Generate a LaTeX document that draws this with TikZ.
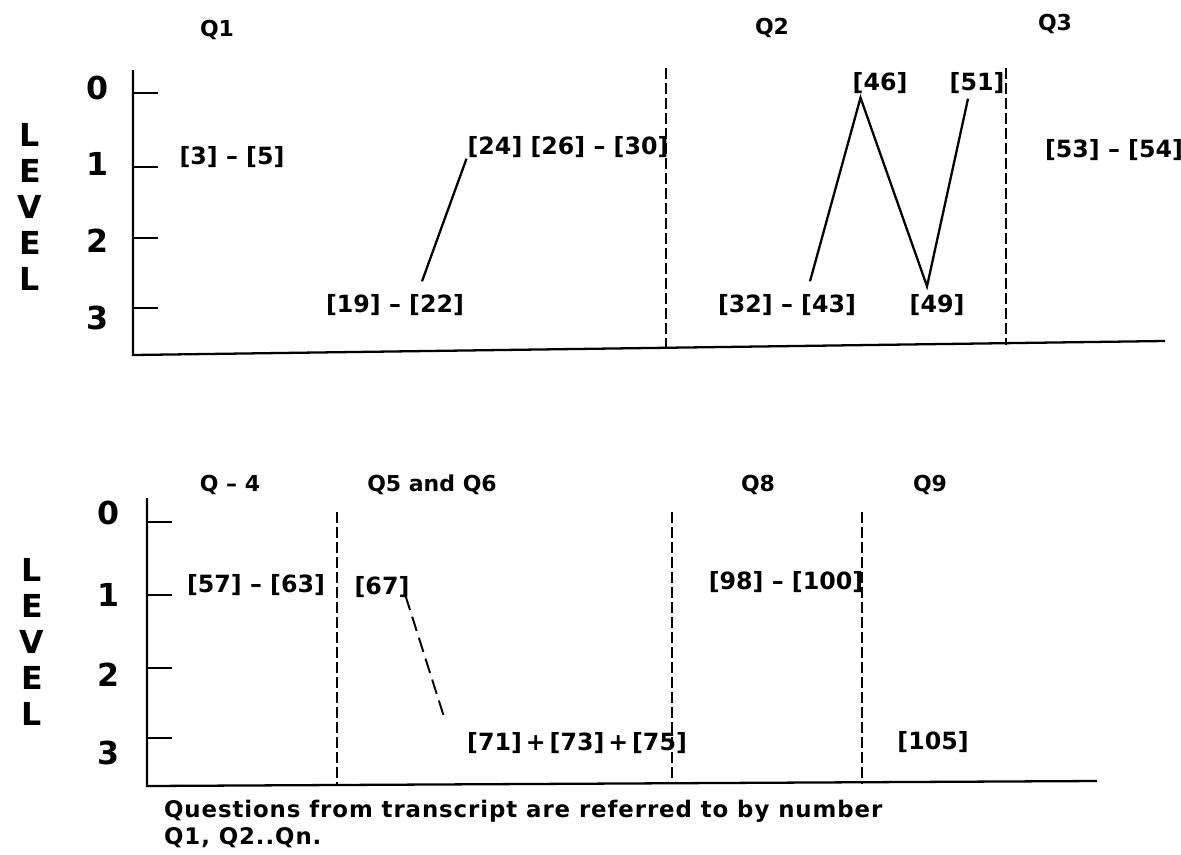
\documentclass[tikz,border=0pt]{standalone}
\usepackage{fontspec}
\setmainfont{DejaVu Sans}
\usetikzlibrary{calc}

\begin{document}
\begin{tikzpicture}[x=0.2mm,y=-0.2mm,line width=1.3pt,
  lvl/.style={font=\fontsize{18}{20}\selectfont\bfseries,inner sep=0},
  qlbl/.style={font=\fontsize{12.5}{15}\selectfont\bfseries,inner sep=0},
  lbl/.style={font=\fontsize{13.5}{16}\selectfont\bfseries,inner sep=0},
  divider/.style={line width=1.1pt,dash pattern=on 2.2mm off 0.8mm},
  dashlink/.style={line width=1.1pt,dash pattern=on 3mm off 1.4mm}]
  \useasboundingbox (0,0) rectangle (1181,854);
  % upper chart: axes, ticks, dividers
  \draw (133,70) -- (133,355) -- (1165,341);
  \foreach \y in {93,167,238,308} \draw (133,\y) -- (158,\y);
  \draw[divider] (666,68) -- (666,350);
  \draw[divider] (1006,68) -- (1006,345);
  \foreach \v/\y in {0/88,1/164,2/241,3/318} \node[lvl] (tn\v) at (98,\y) {\v};
  \foreach \c [count=\i] in {L,E,V,E,L} \node[lvl] (tl\i) at (30,{99+36*\i}) {\c};
  % question headers
  \node[qlbl] (q1) at (217,30) {Q1};
  \node[qlbl] (q2) at (772,28) {Q2};
  \node[qlbl] (q3) at (1055,24) {Q3};
  % transcript references
  \node[lbl] (l35) at (232,157) {[3] -- [5]};
  \node[lbl] (l1922) at (395,305) {[19] -- [22]};
  \node[lbl] (l24) at (568,147) {[24] [26] -- [30]};
  \node[lbl] (l3243) at (787,305) {[32] -- [43]};
  \node[lbl] (l46) at (880,83) {[46]};
  \node[lbl] (l49) at (937,305) {[49]};
  \node[lbl] (l51) at (977,83) {[51]};
  \node[lbl] (l5354) at (1114,150) {[53] -- [54]};
  \draw ($(l1922.north)+(27,-12)$) -- (l24.south west);
  \draw ($(l3243.north)+(23,-12)$) -- ($(l46.south west)+(9,3)$)
    -- ($(l49.north)+(-10,-7)$) -- ($(l51.south)+(-9,4)$);

  % lower chart: axes, ticks, dividers
  \draw (147,498) -- (147,786) -- (1097,781);
  \foreach \y in {522,595,668,738} \draw (147,\y) -- (172,\y);
  \foreach \x in {337,672,862} \draw[divider] (\x,512) -- (\x,784);
  \foreach \v/\y in {0/513,1/595,2/675,3/753} \node[lvl] (bn\v) at (109,\y) {\v};
  \foreach \c [count=\i] in {L,E,V,E,L} \node[lvl] (bl\i) at (32,{534+36*\i}) {\c};
  \node[qlbl] (q4) at (230,485) {Q -- 4};
  \node[qlbl] (q56) at (432,485) {Q5 and Q6};
  \node[qlbl] (q8) at (758,485) {Q8};
  \node[qlbl] (q9) at (930,485) {Q9};
  \node[lbl] (l5763) at (256,585) {[57] -- [63]};
  \node[lbl] (l67) at (382,587) {[67]};
  \node[lbl] (l71) at (577,743) {[71]\,+\,[73]\,+\,[75]};
  \node[lbl] (l98) at (786,582) {[98] -- [100]};
  \node[lbl] (l105) at (933,742) {[105]};
  \coordinate (d71) at (445,720);
  \draw[dashlink] ($(l67.south east)+(-5,-3)$) -- (d71);
  % note under the chart
  \node[lbl,font=\fontsize{13}{15.5}\selectfont\bfseries\addfontfeature{LetterSpace=4},
    anchor=west,align=left]
    (note) at (163,824) {Questions from transcript are referred to by number\\Q1, Q2..Qn.};
\end{tikzpicture}
\end{document}
